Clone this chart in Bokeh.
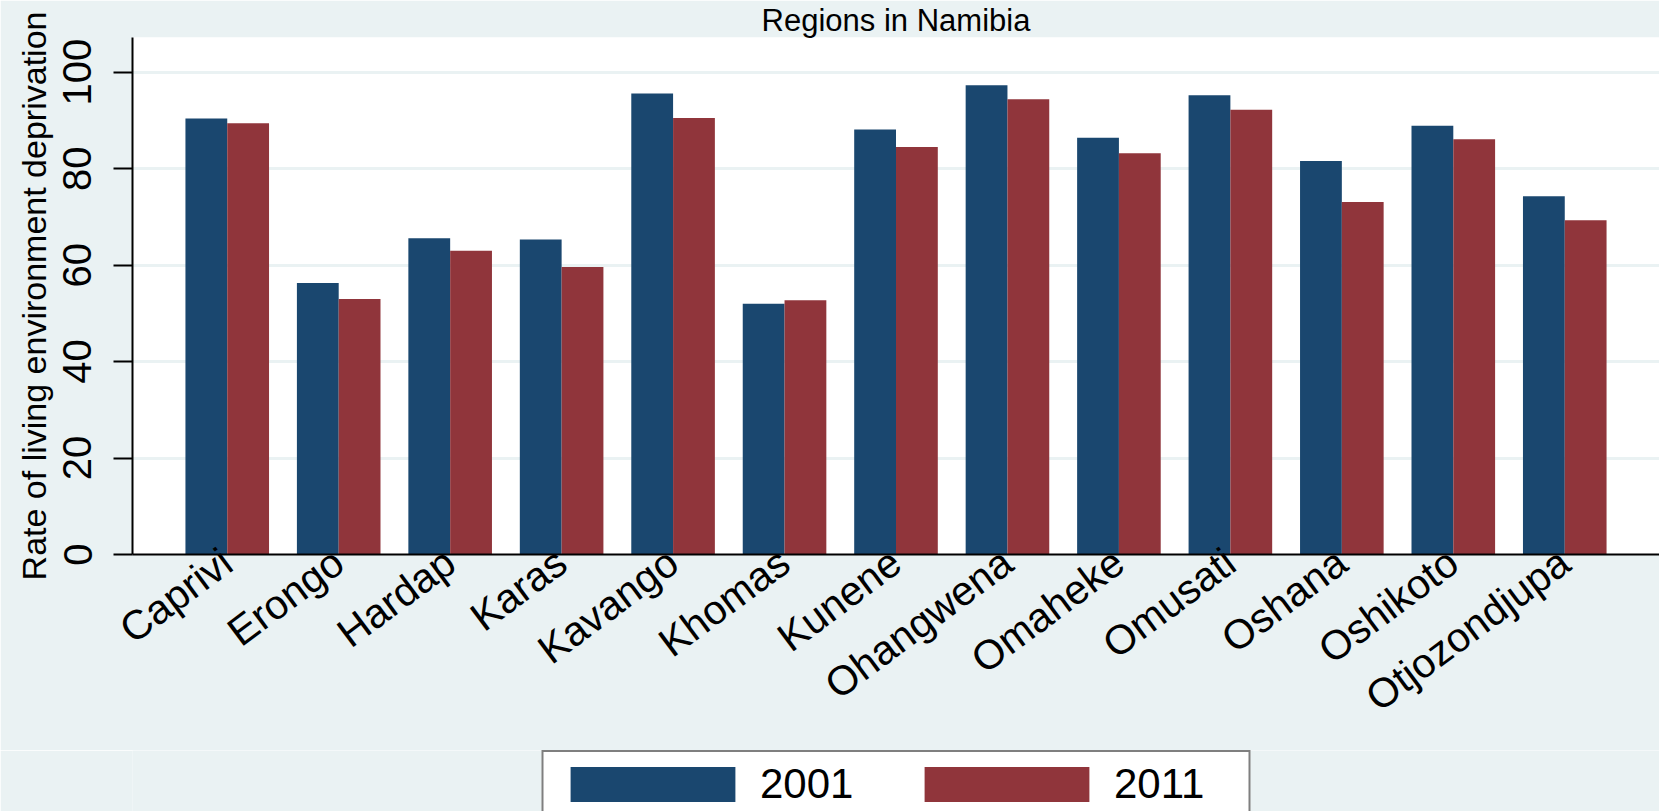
from bokeh.plotting import figure
from bokeh.layouts import column
from bokeh.models import FactorRange, Range1d, Legend, LegendItem, FixedTicker, ColumnDataSource
from bokeh.transform import dodge
from bokeh.embed import file_html
from bokeh.resources import INLINE

# ---------------- data ----------------
regions = ["Caprivi", "Erongo", "Hardap", "Karas", "Kavango", "Khomas", "Kunene",
           "Ohangwena", "Omaheke", "Omusati", "Oshana", "Oshikoto", "Otjozondjupa"]
rate_2001 = [90.4, 56.3, 65.6, 65.3, 95.6, 52.0, 88.1, 97.3, 86.4, 95.2, 81.6, 88.9, 74.3]
rate_2011 = [89.4, 53.0, 63.0, 59.6, 90.5, 52.7, 84.5, 94.4, 83.2, 92.2, 73.1, 86.1, 69.3]
years = ["2001", "2011"]
y_ticks = [0, 20, 40, 60, 80, 100]
title_text = "Regions in Namibia"
y_label = "Rate of living environment deprivation"

# ---------------- style ----------------
FONT = "Liberation Sans"
BLUE = "#1a476f"
RED = "#90353b"
BG = "#eaf2f3"

src = ColumnDataSource(data=dict(region=regions, r2001=rate_2001, r2011=rate_2011))

# ---------------- main chart ----------------
p = figure(
    title=title_text,
    x_range=FactorRange(factors=regions, range_padding=0.35, range_padding_units="absolute"),
    y_range=Range1d(0, 107.2),
    width=1659, height=750,
    output_backend="svg", toolbar_location=None,
    min_border_left=132, min_border_right=0, min_border_top=36, min_border_bottom=196,
    background_fill_color="white", border_fill_color=BG, outline_line_color=None,
)
p.title.align = "center"
p.title.text_font = FONT
p.title.text_font_size = "31px"
p.title.text_font_style = "normal"
p.title.text_color = "black"
p.title.standoff = 0

r1 = p.vbar(x=dodge("region", -0.1875, range=p.x_range), top="r2001", width=0.375,
            source=src, fill_color=BLUE, line_color=None)
r2 = p.vbar(x=dodge("region", 0.1875, range=p.x_range), top="r2011", width=0.375,
            source=src, fill_color=RED, line_color=None)

# grid
p.xgrid.grid_line_color = None
p.ygrid.grid_line_color = BG
p.ygrid.grid_line_width = 3
p.ygrid.ticker = FixedTicker(ticks=y_ticks)

# y axis
p.yaxis.ticker = FixedTicker(ticks=y_ticks)
p.yaxis.major_label_orientation = "vertical"
p.yaxis.major_tick_out = 19
p.yaxis.major_tick_in = 0
p.yaxis.minor_tick_out = 0
p.yaxis.minor_tick_in = 0
p.yaxis.major_tick_line_width = 2
p.yaxis.major_tick_line_color = "black"
p.yaxis.axis_line_width = 2
p.yaxis.axis_line_color = "black"
p.yaxis.major_label_text_font = FONT
p.yaxis.major_label_text_font_size = "40px"
p.yaxis.major_label_text_color = "black"
p.yaxis.major_label_standoff = 22
p.yaxis.axis_label = y_label
p.yaxis.axis_label_text_font = FONT
p.yaxis.axis_label_text_font_size = "34px"
p.yaxis.axis_label_text_font_style = "normal"
p.yaxis.axis_label_text_color = "black"
p.yaxis.axis_label_standoff = 8

# x axis
p.xaxis.major_label_orientation = 0.64
p.xaxis.major_tick_out = 0
p.xaxis.major_tick_in = 0
p.xaxis.minor_tick_out = 0
p.xaxis.axis_line_width = 2
p.xaxis.axis_line_color = "black"
p.xaxis.major_label_text_font = FONT
p.xaxis.major_label_text_font_size = "41px"
p.xaxis.major_label_text_color = "black"
p.xaxis.major_label_standoff = 3

# ---------------- legend strip (bottom, cut by the page edge) ----------------
lg = figure(
    x_range=FactorRange(factors=regions), y_range=Range1d(1000, 1001),
    width=1659, height=61,
    output_backend="svg", toolbar_location=None,
    min_border_left=132, min_border_right=0, min_border_top=0, min_border_bottom=0,
    background_fill_color=BG, border_fill_color=BG, outline_line_color=None,
)
lg.axis.visible = False
lg.grid.visible = False
# legend keys: same series, lying far outside the strip's visible range
k1 = lg.vbar(x=dodge("region", -0.1875, range=lg.x_range), top="r2001", width=0.375,
             source=src, fill_color=BLUE, line_color=None)
k2 = lg.vbar(x=dodge("region", 0.1875, range=lg.x_range), top="r2011", width=0.375,
             source=src, fill_color=RED, line_color=None)

legend = Legend(
    items=[LegendItem(label=years[0], renderers=[k1]), LegendItem(label=years[1], renderers=[k2])],
    orientation="horizontal",
    location="top_center",
    margin=0,
    padding=6,
    spacing=15,
    glyph_width=206,
    glyph_height=44,
    label_width=128,
    label_height=52,
    label_standoff=5,
    label_text_font=FONT,
    label_text_font_size="42px",
    label_text_color="black",
    border_line_color="black",
    border_line_width=2,
    background_fill_color="white",
    background_fill_alpha=1.0,
)
lg.add_layout(legend, "center")

open("out.html", "w").write(file_html(column(p, lg, spacing=0), INLINE))
